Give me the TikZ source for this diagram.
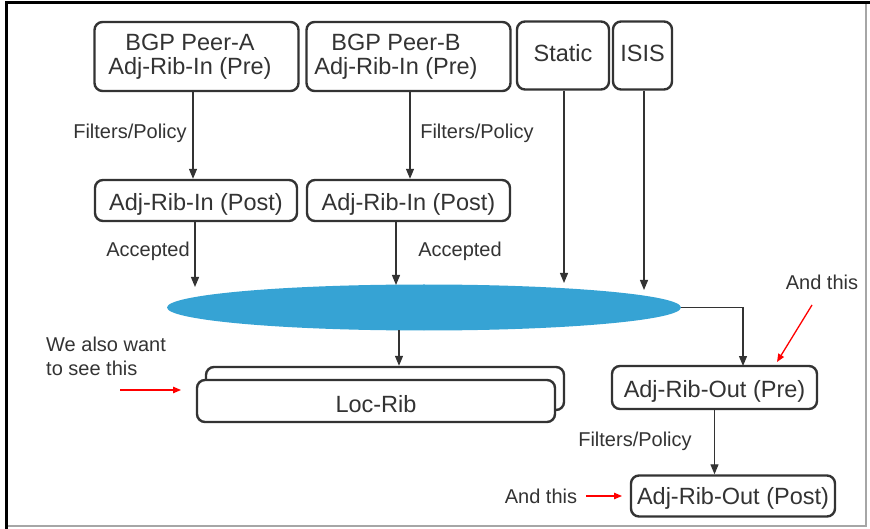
\documentclass[tikz,border=0pt]{standalone}
\usepackage{fontspec}
\setmainfont{Liberation Sans}
\usetikzlibrary{arrows.meta,calc}
\definecolor{ink}{HTML}{333333}
\definecolor{blob}{HTML}{36A3D4}
\begin{document}
\begin{tikzpicture}[x=1pt,y=-1pt,
  box/.style={draw=ink,line width=2.4pt,rounded corners=8pt,fill=white,text=ink,
    font=\fontsize{23.5}{24}\selectfont,inner sep=0pt,align=center},
  lbl/.style={text=ink,font=\fontsize{20}{24}\selectfont,inner sep=0pt},
  arr/.style={draw=ink,line width=1.2pt,-{Triangle[length=10pt,width=8pt]}},
  redarr/.style={draw=red,line width=1.3pt,-{Triangle[length=8pt,width=6.5pt]}}]
\useasboundingbox (0,0) rectangle (870,529);
% frame
\draw[gray!70,line width=1.5pt] (6,526) -- (866,526) -- (866,3);
\draw[black,line width=3pt] (6,529) -- (6,3) -- (870,3);

% top sources
\node[box,minimum width=204pt,minimum height=69pt] (pa) at (196.5,56.5) {BGP Peer-A\hspace*{13pt}\\Adj-Rib-In (Pre)\hspace*{13pt}};
\node[box,minimum width=204pt,minimum height=69pt] (pb) at (408.5,56.5) {BGP Peer-B\hspace*{25pt}\\Adj-Rib-In (Pre)\hspace*{25pt}};
\node[box,minimum width=92pt,minimum height=68pt,text height=11.8pt,text depth=0pt] (st) at (563,55.5) {Static};
\node[box,minimum width=59pt,minimum height=68pt,text height=11.8pt,text depth=0pt] (is) at (642.5,55.5) {ISIS};

% post policy
\node[box,minimum width=202pt,minimum height=41pt,text height=24.8pt,text depth=5pt] (qa) at (196,200.5) {Adj-Rib-In (Post)};
\node[box,minimum width=203pt,minimum height=41pt,text height=24.8pt,text depth=5pt] (qb) at (408.5,200.5) {Adj-Rib-In (Post)};

% loc-rib ellipse
\fill[blob] (424,307.5) ellipse [x radius=257pt, y radius=23pt];
\node[inner sep=0pt,minimum width=514pt,minimum height=46pt] (el) at (424,307.5) {};

% loc-rib stacked boxes
\node[box,minimum width=358pt,minimum height=43pt] (lb) at (385,388.5) {};
\node[box,minimum width=358pt,minimum height=42pt,text height=27pt,text depth=5pt] (lr) at (376,401) {Loc-Rib};

% adj-rib-out
\node[box,minimum width=205pt,minimum height=43pt,text height=24.8pt,text depth=5pt] (op) at (714.5,387.5) {Adj-Rib-Out (Pre)};
\node[box,minimum width=204pt,minimum height=41pt,text height=21.8pt,text depth=5pt] (oq) at (733,496) {Adj-Rib-Out (Post)};

% arrow end points
\coordinate (ea) at (195,287);
\coordinate (eb) at (396,285);
\coordinate (es) at (564,283);
\coordinate (ei) at (644,290);
\coordinate (eo) at (743,366);
\coordinate (elr) at (399,330);

% connectors
\draw[arr] (pa.south -| 193,0) -- (qa.north -| 193,0);
\draw[arr] (pb.south -| 410,0) -- (qb.north -| 410,0);
\draw[arr] (qa.south -| ea) -- (ea);
\draw[arr] (qb.south -| eb) -- (eb);
\draw[arr] (st.south -| es) -- (es);
\draw[arr] (is.south -| ei) -- (ei);
\draw[arr] (el.east) -| (eo);
\draw[arr] (elr) -- (lb.north -| elr);
\draw[arr] (op.south) -- (op.south |- oq.north);

% labels
\node[lbl] (f1) at (130,133) {Filters/Policy};
\node[lbl] (f2) at (477,133) {Filters/Policy};
\node[lbl] (f3) at (635,441) {Filters/Policy};
\node[lbl] (a1) at (148,251) {Accepted};
\node[lbl] (a2) at (460,251) {Accepted};
\node[lbl,align=left,anchor=west] (w) at (46,356) {We also want\\to see this};
\node[lbl] (t1) at (822,282) {And this};
\node[lbl] (t2) at (541,496) {And this};

% red pointers
\coordinate (r1a) at (120,390);
\coordinate (r1b) at (181,390);
\coordinate (r2a) at (812,305);
\coordinate (r2b) at (777,362);
\coordinate (r3a) at (586,496);
\coordinate (r3b) at (622,496);
\draw[redarr] (r1a) -- (r1b);
\draw[redarr] (r2a) -- (r2b);
\draw[redarr] (r3a) -- (r3b);
\end{tikzpicture}
\end{document}
